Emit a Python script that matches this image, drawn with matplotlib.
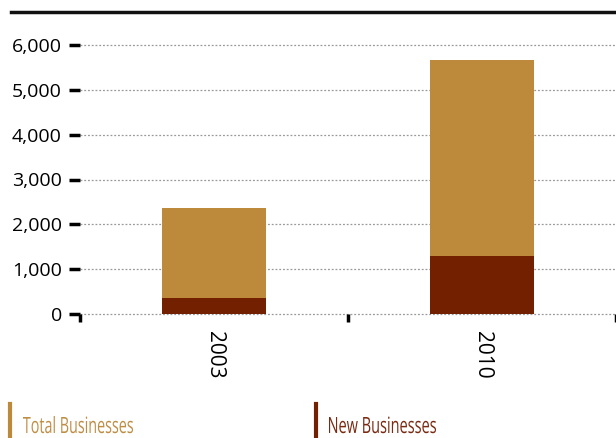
import numpy as np
import matplotlib.pyplot as plt
from matplotlib.lines import Line2D
from matplotlib.patches import PathPatch
from matplotlib.textpath import TextPath
from matplotlib.font_manager import FontProperties
from matplotlib.transforms import Affine2D

years = ['2003', '2010']
total_businesses = [2360, 5670]
new_businesses = [350, 1290]
y_ticks = [0, 1000, 2000, 3000, 4000, 5000, 6000]

GOLD = '#BC8A3A'
RUST = '#732000'
DPI = 100

plt.rcParams['font.family'] = ['Open Sans', 'DejaVu Sans']

fig = plt.figure(figsize=(6.16, 4.38), dpi=DPI)
ax = fig.add_axes([80/616, 124/438, 536/616, 269/438])

x = np.arange(len(years))
width = 0.39
ax.bar(x, total_businesses, width, color=GOLD, zorder=2)
ax.bar(x, new_businesses, width, color=RUST, zorder=3)

ax.set_xlim(-0.5, len(years) - 0.5)
ax.set_ylim(0, 6000)
ax.set_yticks(y_ticks)
ax.set_yticklabels([f'{v:,}' for v in y_ticks], fontsize=14)
ax.set_xticks(x)
ax.set_xticklabels(years, rotation=-90, fontsize=15)
ax.tick_params(axis='x', length=0, pad=12)
ax.tick_params(axis='y', length=8, width=2.5, pad=5, direction='out')

# category boundaries marked with short downward ticks
ax.set_xticks(np.arange(-0.5, len(years)), minor=True)
ax.tick_params(axis='x', which='minor', length=6, width=2.5, direction='out')

for v in y_ticks:
    ax.axhline(v, linestyle=(0, (1.5, 1.5)), color='#999999', linewidth=0.9,
               zorder=0, clip_on=False)
for s in ax.spines.values():
    s.set_visible(False)

# heavy rule across the top
fig.add_artist(Line2D([11/616, 1], [1 - 11.5/438] * 2, color='#111111', linewidth=2.5))


def condensed_text(label, x_px, y_px, cap_px, width_px, color):
    """Draw label as a path squeezed horizontally to width_px (figure pixels)."""
    fp = FontProperties(family='Open Sans')
    size = cap_px / 0.714
    tp = TextPath((0, 0), label, size=size, prop=fp)
    ext = tp.get_extents()
    sx = width_px / ext.width
    tr = (Affine2D().translate(-ext.x0, 0).scale(sx, 1).translate(x_px, y_px)
          .scale(1 / DPI) + fig.dpi_scale_trans)
    fig.add_artist(PathPatch(tp, transform=tr, facecolor=color, edgecolor='none'))


# legend with vertical colour bars
legend_items = [('Total Businesses', GOLD, '#BF8E45', 10, 110),
                ('New Businesses', RUST, '#7A2A12', 316, 107)]
for label, color, text_color, px, w in legend_items:
    fig.add_artist(Line2D([px/616] * 2, [0, 34/438], color=color, linewidth=3))
    condensed_text(label, px + 13, 5, 16, w, text_color)

fig.savefig('out.png', dpi=DPI)
